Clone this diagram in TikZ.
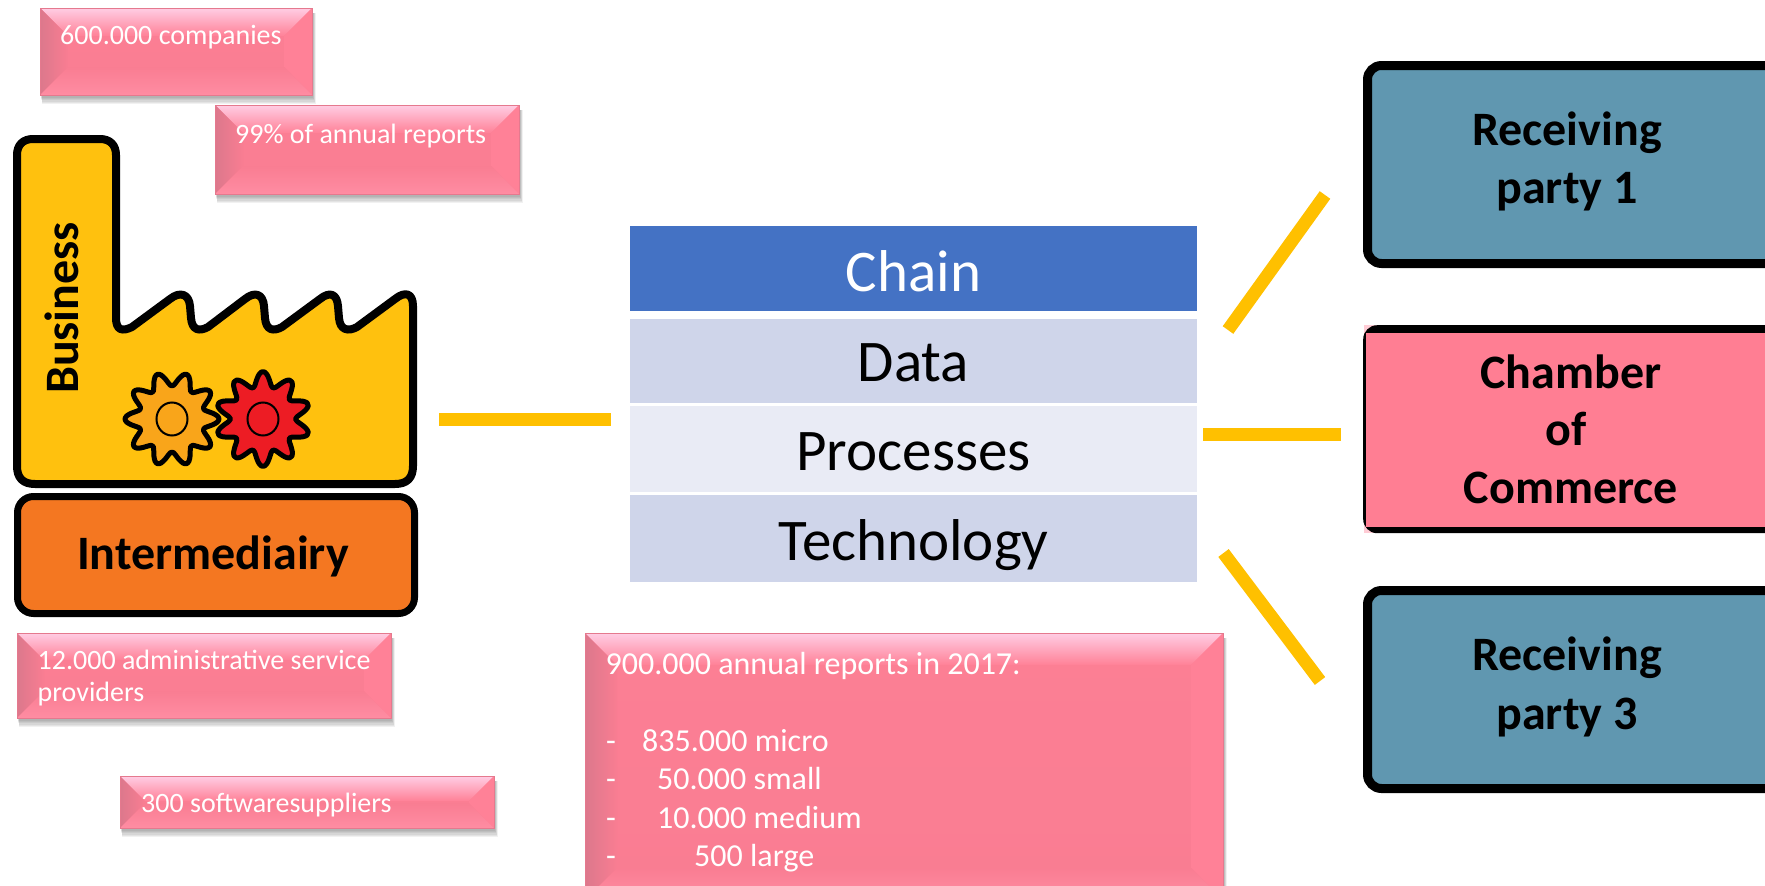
\documentclass[tikz,border=0pt]{standalone}
\usepackage{fontspec}
\setmainfont{Carlito}
\definecolor{yel}{HTML}{FFC000}
\definecolor{fact}{HTML}{FFC10E}
\definecolor{inter}{HTML}{F47721}
\definecolor{bluebox}{HTML}{6097B0}
\definecolor{pinkfill}{HTML}{FF7E93}
\definecolor{pinkcorner}{HTML}{FFCCD5}
\definecolor{chain}{HTML}{4472C4}
\definecolor{rowa}{HTML}{CFD5EA}
\definecolor{rowb}{HTML}{E9EBF5}
\definecolor{gearo}{HTML}{F9A51A}
\definecolor{gearr}{HTML}{ED1C24}
\definecolor{bvbase}{HTML}{F97D92}
\definecolor{bvlight}{HTML}{FFCDE4}
\definecolor{bvmid}{HTML}{FF8197}
\definecolor{bvdark}{HTML}{DC788C}
\tikzset{
  conn/.style={yel,line width=13pt},
  bigbold/.style={font=\fontsize{48}{48}\selectfont\bfseries,anchor=base,inner sep=0pt,text=black},
  rowtext/.style={font=\fontsize{59}{59}\selectfont,anchor=base,inner sep=0pt,text=black},
  smalltext/.style={font=\fontsize{28}{28}\selectfont,anchor=base west,inner sep=0pt,text=white},
  midtext/.style={font=\fontsize{32}{32}\selectfont,anchor=base west,inner sep=0pt,text=white},
  rowcell/.style={minimum width=567pt,inner sep=0pt,draw=none},
  partybox/.style={draw=black,line width=9pt,fill=bluebox,rounded corners=14pt,inner sep=0pt},
}
\newcommand{\bevelbox}[5]{%
  \foreach \s in {1,2,...,7}{\fill[black,opacity=.055] (#1+\s*0.3,#2+5) rectangle (#3+\s*0.5,#4+\s*1.3);}
  \shade[top color=bvmid!50!bvbase,bottom color=bvbase] (#1,#2) rectangle (#3,#4);
  \shade[top color=bvlight,middle color=bvmid!75!bvlight,bottom color=bvmid]
     (#1,#2) -- (#3,#2) -- (#3-#5,#2+#5) -- (#1+#5,#2+#5) -- cycle;
  \shade[left color=bvdark,right color=bvbase]
     (#1,#2) -- (#1+#5,#2+#5) -- (#1+#5,#4-#5) -- (#1,#4) -- cycle;
  \fill[bvmid] (#3,#2) -- (#3-#5,#2+#5) -- (#3-#5,#4-#5) -- (#3,#4) -- cycle;
  \shade[top color=bvbase,bottom color=bvmid!85!bvlight]
     (#1,#4) -- (#1+#5,#4-#5) -- (#3-#5,#4-#5) -- (#3,#4) -- cycle;
  \draw[bvdark!70!bvbase,line width=1pt] (#1,#2) rectangle (#3,#4);
}
\begin{document}
\begin{tikzpicture}[x=1pt,y=-1pt]
\clip (0,0) rectangle (1765,886);
\useasboundingbox (0,0) rectangle (1765,886);
\fill[white] (0,0) rectangle (1765,886);

% pink bevelled boxes
\bevelbox{40}{8}{312}{95}{28}
\node[smalltext] (t600) at (60,44) {600.000 companies};
\bevelbox{215}{105}{519}{194}{28}
\node[smalltext] (t99) at (235,143) {99\% of annual reports};
\bevelbox{17}{633}{391}{718}{27}
\node[smalltext] (t12a) at (37.5,669) {12.000 administrative service};
\node[smalltext] (t12b) at (37.5,701) {providers};
\bevelbox{120}{776}{494}{828}{25}
\node[smalltext] (t300) at (141,812) {300 softwaresuppliers};
\bevelbox{585}{633}{1223}{900}{32}
\node[midtext] (t900) at (605.5,674) {900.000 annual reports in 2017:};
\node[midtext] (d1) at (606,751) {-};
\node[midtext] (v1) at (642,751) {835.000 micro};
\node[midtext] (d2) at (606,789) {-};
\node[midtext] (v2) at (657,789) {50.000 small};
\node[midtext] (d3) at (606,828) {-};
\node[midtext] (v3) at (657,828) {10.000 medium};
\node[midtext] (d4) at (606,866) {-};
\node[midtext] (v4) at (694,866) {500 large};

% factory
\draw[black,line width=8pt,fill=fact,line join=round]
  (17,300) -- (17,155) .. controls (17,145) and (23,139) .. (33,139)
  -- (100,139) .. controls (110,139) and (116,145) .. (116,155)
  -- (116,318) .. controls (116,330) and (122,332) .. (132,327)
  -- (170,299) .. controls (180,291) and (189,294) .. (190,306)
  -- (191,318) .. controls (192,330) and (199,332) .. (208,327)
  -- (245,299) .. controls (255,291) and (263,294) .. (264,306)
  -- (265,318) .. controls (266,330) and (273,332) .. (282,327)
  -- (320,299) .. controls (330,291) and (337,294) .. (338,306)
  -- (339,318) .. controls (340,330) and (348,332) .. (357,327)
  -- (395,299) .. controls (405,291) and (413,293) .. (413,306)
  -- (413,466) .. controls (413,478) and (407,484) .. (395,484)
  -- (35,484) .. controls (23,484) and (17,478) .. (17,466) -- cycle;
\node[bigbold,rotate=90] (biz) at (78,308) {Business};

% gears
\draw[black,line width=5pt,fill=gearo,line join=round]
  plot[domain=0:356,samples=90,smooth cycle] ({172+(40+7*cos(10*\x))*cos(\x)},{419-(40+7*cos(10*\x))*sin(\x)});
\draw[black,line width=2pt] (172,419) circle[x radius=15.5,y radius=16.5];
\draw[black,line width=5pt,fill=gearr,line join=round]
  plot[domain=0:356,samples=90,smooth cycle] ({263+(40+7.5*cos(10*(\x-90)))*cos(\x)},{419-(40+7.5*cos(10*(\x-90)))*sin(\x)});
\draw[black,line width=2pt] (263,419) circle[x radius=15.5,y radius=16.5];

% intermediary
\node[draw=black,line width=7pt,fill=inter,rounded corners=16pt,minimum width=397pt,minimum height=117pt,inner sep=0pt] (ibox) at (216,555) {};
\node[bigbold] (itext) at (213,569) {Intermediairy};

% table
\node[rowcell,fill=chain,minimum height=85pt] (rchain) at (913.5,268.5) {};
\node[rowcell,fill=rowa,minimum height=84pt] (rdata) at (913.5,361) {};
\node[rowcell,fill=rowb,minimum height=86pt] (rproc) at (913.5,449) {};
\node[rowcell,fill=rowa,minimum height=87pt] (rtech) at (913.5,538.5) {};
\node[rowtext,text=white] (tchain) at (913.5,291) {Chain};
\node[rowtext] (tdata) at (913.5,381) {Data};
\node[rowtext] (tproc) at (913.5,470) {Processes};
\node[rowtext] (ttech) at (913.5,560.5) {Technology};

% right boxes
\node[partybox,minimum width=440pt,minimum height=198pt,anchor=north west] (rp1) at (1363,61) {};
\node[bigbold] (rp1a) at (1567,145) {Receiving};
\node[bigbold] (rp1b) at (1567,203) {party 1};

\fill[pinkcorner] (1364,325) rectangle (1800,533);
\node[draw=none,fill=black,rounded corners=14pt,minimum width=440pt,minimum height=208pt,inner sep=0pt,anchor=north west] (rp2bg) at (1363,325) {};
\fill[pinkfill] (1366,333) rectangle (1800,527);
\node[bigbold] (rp2a) at (1571,388) {Chamber};
\node[bigbold] (rp2b) at (1566,445) {of};
\node[bigbold] (rp2c) at (1571,503) {Commerce};

\node[partybox,minimum width=440pt,minimum height=198pt,anchor=north west] (rp3) at (1363,586) {};
\node[bigbold] (rp3a) at (1567,670) {Receiving};
\node[bigbold] (rp3b) at (1567,729) {party 3};

% connectors
\coordinate (c1a) at (439,419);  \coordinate (c1b) at (611,419);
\coordinate (c2a) at (1203,434.5); \coordinate (c2b) at (1341,434.5);
\coordinate (c3a) at (1228,330); \coordinate (c3b) at (1325,195);
\coordinate (c4a) at (1223.5,553); \coordinate (c4b) at (1320,681);
\draw[conn] (c1a) -- (c1b);
\draw[conn] (c2a) -- (c2b);
\draw[conn] (c3a) -- (c3b);
\draw[conn] (c4a) -- (c4b);
\end{tikzpicture}
\end{document}
